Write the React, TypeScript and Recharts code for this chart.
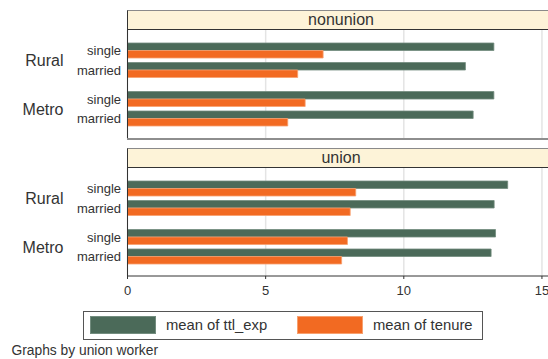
import React from 'react';
import { BarChart, Bar, XAxis, YAxis, CartesianGrid } from 'recharts';

const panels = ['nonunion', 'union'];
const areas = ['Rural', 'Metro'];
const statuses = ['single', 'married'];
const seriesNames = ['mean of ttl_exp', 'mean of tenure'];
const xTicks = [0, 5, 10, 15];

// order: Rural single, Rural married, Metro single, Metro married
const ttlExpNonunion = [13.26, 12.23, 13.26, 12.51];
const tenureNonunion = [7.08, 6.16, 6.43, 5.8];
const ttlExpUnion = [13.76, 13.27, 13.32, 13.16];
const tenureUnion = [8.26, 8.06, 7.96, 7.75];

const GREEN = '#4b6a59';
const ORANGE = '#f26a22';
const TEXT = '#333';
const FONT = '"Liberation Sans", Arial, Helvetica, sans-serif';

const CHART_W = 553;
const AXIS_W = 127.5;

const panelData = [
  { ttl: ttlExpNonunion, ten: tenureNonunion },
  { ttl: ttlExpUnion, ten: tenureUnion },
];

const rowsFor = (p: number, a: number) =>
  statuses.map((s, i) => ({
    status: s,
    ttl_exp: panelData[p].ttl[a * 2 + i],
    tenure: panelData[p].ten[a * 2 + i],
  }));

const StatusTick = (props: any) => {
  const { y, payload, index, area, band } = props;
  return (
    <g>
      <text x={121} y={y} dy="0.35em" textAnchor="end" fontSize={13} fill={TEXT} fontFamily={FONT}>
        {payload.value}
      </text>
      {index === 0 && (
        <text x={63.5} y={y + band / 2} dy="0.35em" textAnchor="end" fontSize={16} fill={TEXT} fontFamily={FONT}>
          {area}
        </text>
      )}
    </g>
  );
};

const GroupChart = ({ rows, area, h, padTop, padBottom, showAxis }: any) => {
  const band = (h - padTop - padBottom) / rows.length;
  return (
    <BarChart
      layout="vertical"
      width={CHART_W}
      height={h + (showAxis ? 30 : 0)}
      data={rows}
      margin={{ top: 0, right: 0, bottom: 0, left: 0 }}
      barSize={7.5}
      barGap={0}
    >
      <CartesianGrid vertical horizontal={false} stroke="#e4e4e4" strokeWidth={1.5} />
      <XAxis
        type="number"
        domain={[0, 15.4]}
        ticks={xTicks}
        allowDataOverflow
        hide={!showAxis}
        height={30}
        axisLine={{ stroke: TEXT }}
        tickLine={{ stroke: TEXT }}
        tickSize={3}
        tickMargin={7}
        tick={{ fontSize: 13, fill: TEXT, fontFamily: FONT }}
      />
      <YAxis
        type="category"
        dataKey="status"
        width={AXIS_W}
        interval={0}
        padding={{ top: padTop, bottom: padBottom }}
        axisLine={{ stroke: TEXT }}
        tickLine={false}
        tick={(p: any) => <StatusTick {...p} area={area} band={band} />}
      />
      <Bar dataKey="ttl_exp" fill={GREEN} stroke="#728c7e" strokeWidth={0.8} isAnimationActive={false} />
      <Bar dataKey="tenure" fill={ORANGE} stroke="#f7a06e" strokeWidth={0.8} isAnimationActive={false} />
    </BarChart>
  );
};

const Panel = ({ p, top }: { p: number; top: number }) => {
  const last = p === panels.length - 1;
  return (
    <>
      <div
        style={{
          position: 'absolute',
          left: 127,
          top,
          width: 440,
          height: 20,
          boxSizing: 'border-box',
          background: '#fdf3d8',
          borderTop: '1px solid #8a8a8a',
          borderLeft: '1px solid #333',
          borderBottom: '1px solid #333',
          fontSize: 16,
          lineHeight: '18px',
          color: TEXT,
        }}
      >
        <div style={{ width: 426, textAlign: 'center' }}>{panels[p]}</div>
      </div>
      <div style={{ position: 'absolute', left: 0, top: top + 20 }}>
        <GroupChart rows={rowsFor(p, 0)} area={areas[0]} h={55} padTop={11} padBottom={5} showAxis={false} />
      </div>
      <div style={{ position: 'absolute', left: 0, top: top + 75 }}>
        <GroupChart rows={rowsFor(p, 1)} area={areas[1]} h={53} padTop={4.5} padBottom={9.5} showAxis={last} />
      </div>
      {!last && (
        <div style={{ position: 'absolute', left: 127, top: top + 127.5, width: 440, height: 2, background: '#8e8e8e' }} />
      )}
    </>
  );
};

export default function App() {
  return (
    <div
      style={{
        position: 'absolute',
        left: 0,
        top: 0,
        width: 548,
        height: 359,
        overflow: 'hidden',
        background: '#fff',
        fontFamily: FONT,
        color: TEXT,
      }}
    >
      <Panel p={0} top={10} />
      <Panel p={1} top={148} />
      <div
        style={{
          position: 'absolute',
          left: 83,
          top: 310.5,
          width: 400,
          height: 29,
          boxSizing: 'border-box',
          border: '1px solid #555',
          fontSize: 14.8,
          lineHeight: '18px',
        }}
      >
        <div style={{ position: 'absolute', left: 5.5, top: 4.5, width: 66, height: 18, background: GREEN, boxSizing: 'border-box', border: '1px solid #728c7e' }} />
        <div style={{ position: 'absolute', left: 82, top: 4.5 }}>{seriesNames[0]}</div>
        <div style={{ position: 'absolute', left: 213, top: 4.5, width: 66, height: 18, background: ORANGE, boxSizing: 'border-box', border: '1px solid #f7a06e' }} />
        <div style={{ position: 'absolute', left: 289, top: 4.5 }}>{seriesNames[1]}</div>
      </div>
      <div style={{ position: 'absolute', left: 11.5, top: 343, fontSize: 13.8, lineHeight: '16px' }}>
        Graphs by union worker
      </div>
    </div>
  );
}
